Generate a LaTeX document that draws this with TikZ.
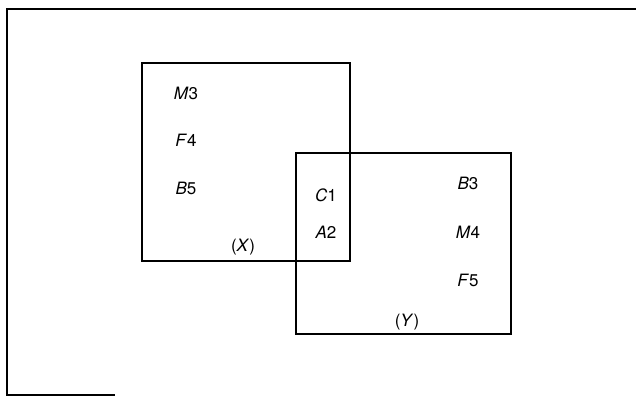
\documentclass[tikz,border=0pt]{standalone}
\usepackage{fontspec}
\setmainfont{TeX Gyre Heros}
\usepackage{tikz}
\usetikzlibrary{positioning}

\begin{document}
\begin{tikzpicture}[
    x=1pt, y=-1pt,
    setbox/.style={
        rectangle,
        draw=black,
        line width=1.6pt,
        inner sep=0pt
    },
    elem/.style={
        font=\fontsize{17}{20}\selectfont,
        inner sep=1pt
    },
    setlabel/.style={
        font=\fontsize{17}{20}\selectfont,
        inner sep=1pt
    }
]
\useasboundingbox (0,0) rectangle (636,397);

% frame
\draw[line width=1.6pt] (636,9) -- (7,9) -- (7,395) -- (115,395);

% the two sets
\node[setbox, minimum width=208pt, minimum height=198pt] (setx) at (246,162) {};
\node[setbox, minimum width=215pt, minimum height=181pt] (sety) at (403.5,243.5) {};

% elements of X only
\node[elem] (m3) at (186,93) {\textit{M}3};
\node[elem] (f4) at (186,140) {\textit{F}4};
\node[elem] (b5) at (186,188) {\textit{B}5};

% common elements
\node[elem] (c1) at (326,195) {\textit{C}1};
\node[elem] (a2) at (326,232) {\textit{A}2};

% elements of Y only
\node[elem] (b3) at (468,183) {\textit{B}3};
\node[elem] (m4) at (468,232) {\textit{M}4};
\node[elem] (f5) at (468,280) {\textit{F}5};

% set names
\node[setlabel] (xname) at (243,247) {(\textit{X})};
\node[setlabel] (yname) at (407,322) {(\textit{Y})};

\end{tikzpicture}
\end{document}
